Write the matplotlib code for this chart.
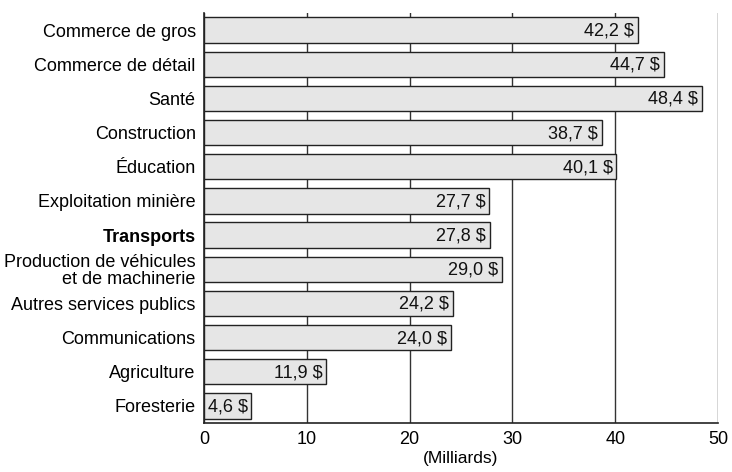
import matplotlib
matplotlib.use("Agg")
import matplotlib.pyplot as plt
from matplotlib import font_manager

categories = [
    "Commerce de gros",
    "Commerce de détail",
    "Santé",
    "Construction",
    "Éducation",
    "Exploitation minière",
    "Transports",
    "Production de véhicules\net de machinerie",
    "Autres services publics",
    "Communications",
    "Agriculture",
    "Foresterie",
]
values = [42.2, 44.7, 48.4, 38.7, 40.1, 27.7, 27.8, 29.0, 24.2, 24.0, 11.9, 4.6]
xticks = [0, 10, 20, 30, 40, 50]
xlabel = "(Milliards)"
highlight = "Transports"

names = {f.name for f in font_manager.fontManager.ttflist}
family = "Liberation Sans Narrow" if "Liberation Sans Narrow" in names else "Liberation Sans"
plt.rcParams["font.family"] = [family, "DejaVu Sans"]

fig = plt.figure(figsize=(7.32, 4.72), dpi=100)
ax = fig.add_axes([204 / 732, 1 - 423 / 472, (718 - 204) / 732, (423 - 13) / 472])

ypos = list(range(len(categories)))
ax.set_axisbelow(True)
ax.barh(ypos, values, height=0.74, color="#e6e6e6", edgecolor="#222222", linewidth=1.0, zorder=3)

for y, v in zip(ypos, values):
    ax.text(v - 0.35, y + 0.03, f"{v:.1f}".replace(".", ",") + " $", ha="right", va="center",
            fontsize=13, color="#111111", zorder=4)

ax.set_ylim(len(categories) - 0.5, -0.5)
ax.set_xlim(0, 50)
ax.set_yticks(ypos)
ax.set_yticklabels(categories, fontsize=13, linespacing=0.95)
for lab in ax.get_yticklabels():
    if lab.get_text() == highlight:
        lab.set_fontweight("bold")
ax.set_xticks(xticks)
ax.set_xticklabels([str(t) for t in xticks], fontsize=13)
ax.tick_params(axis="x", length=0, pad=6)
ax.tick_params(axis="y", length=0, pad=6)
ax.xaxis.grid(True, color="#333333", linewidth=1.0)
ax.set_xlabel(xlabel, fontsize=12.5, labelpad=2)

for s in ["top", "right"]:
    ax.spines[s].set_visible(False)
for s in ["left", "bottom"]:
    ax.spines[s].set_color("#222222")
    ax.spines[s].set_linewidth(1.2)

fig.savefig("out.png", dpi=100)
